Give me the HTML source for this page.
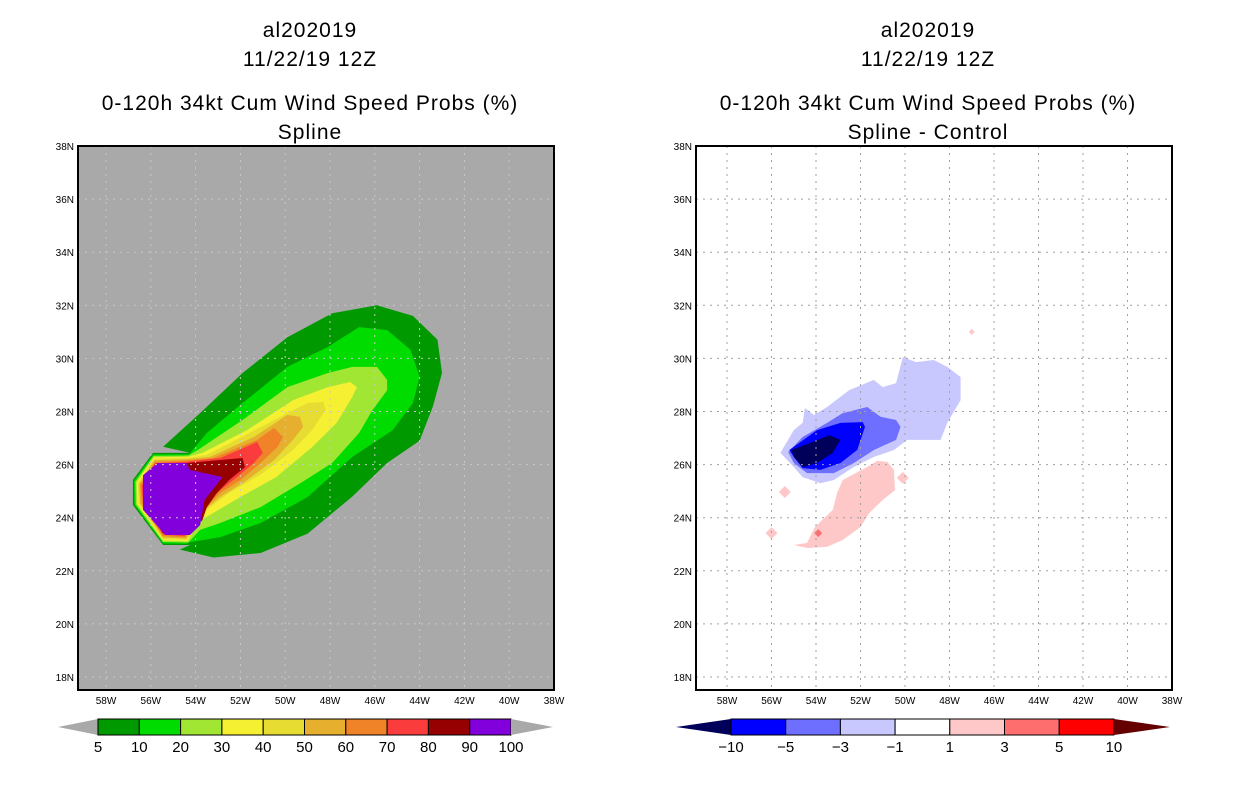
<!DOCTYPE html>
<html><head><meta charset="utf-8"><style>
body{margin:0;background:#fff;width:1236px;height:800px;overflow:hidden}
svg{display:block}
text{font-family:"Liberation Sans",sans-serif}
</style></head><body>
<svg id="c" width="1236" height="800" viewBox="0 0 1236 800">
<g id="titles" font-size="21" text-anchor="middle" fill="#000" letter-spacing="1">
<text x="310" y="37">al202019</text>
<text x="310" y="66">11/22/19 12Z</text>
<text x="310" y="110">0-120h 34kt Cum Wind Speed Probs (%)</text>
<text x="310" y="139">Spline</text>
<text x="928" y="37">al202019</text>
<text x="928" y="66">11/22/19 12Z</text>
<text x="928" y="110">0-120h 34kt Cum Wind Speed Probs (%)</text>
<text x="928" y="139">Spline - Control</text>
</g>
<g id="L"></g><g id="R"></g>
</svg>
<script>
const NS="http://www.w3.org/2000/svg";
const lonTicks=[58,56,54,52,50,48,46,44,42,40,38];
const latTicks=[38,36,34,32,30,28,26,24,22,20,18];
const probLevels=["5","10","20","30","40","50","60","70","80","90","100"];
const probColors=["#009a00","#00dc00","#a0e632","#f5f032","#e6dc32","#e6af2d","#f08228","#fa3c3c","#960000","#8200dc"];
const diffLevels=["-10","-5","-3","-1","1","3","5","10"];
const diffColors=["#00005a","#0000ff","#6e6eff","#c8c8ff","#ffffff","#ffc8c8","#ff6e6e","#ff0000","#640000"];
// contour outlines [lonW, latN] (east side, before closing around the storm-core octagon)
const prob5=[[55.45,26.67],[53.8,27.94],[51.9,29.45],[49.9,30.8],[47.9,31.7],[45.9,32.0],[44.3,31.6],[43.2,30.7],[43.0,29.45],[43.4,28.2],[44.0,26.9],[45.45,26.06],[47.0,24.8],[49.0,23.4],[51.1,22.67],[53.2,22.5],[54.7,22.8]];
const prob10=[[53.5,27.19],[51.9,28.32],[49.9,29.68],[48.1,30.43],[46.7,31.18],[45.45,31.07],[44.4,30.32],[44.0,29.3],[44.3,28.32],[45.2,27.3],[47.0,26.29],[49.0,24.78],[51.1,23.8],[52.9,23.27],[54.4,23.05]];
const prob20=[[53.9,26.55],[51.9,27.68],[49.9,28.92],[48.1,29.45],[47.0,29.68],[45.9,29.68],[45.45,29.19],[45.45,28.8],[46.1,28.06],[46.7,27.19],[47.9,26.06],[49.3,25.31],[51.1,24.4],[52.9,23.8],[53.8,23.54]];
const prob30=[[53.7,26.44],[51.7,27.3],[49.65,28.43],[48.1,28.92],[47.1,29.11],[46.8,28.92],[47.0,28.55],[47.7,27.57],[48.8,26.66],[50.4,25.53],[52.0,24.78],[53.5,24.03],[53.9,23.8]];
const prob40=[[53.5,26.36],[51.6,27.19],[49.9,27.94],[49.0,28.32],[48.3,28.36],[48.2,28.06],[48.8,27.3],[49.65,26.55],[51.0,25.68],[52.5,24.93],[53.5,24.3]];
const prob50=[[53.35,26.29],[51.4,27.04],[49.9,27.87],[49.35,27.8],[49.2,27.42],[49.65,26.93],[50.5,26.17],[51.7,25.42],[52.9,24.78],[53.45,24.4]];
const prob60=[[53.2,26.25],[51.25,26.93],[50.5,27.38],[50.1,27.04],[50.35,26.66],[51.1,26.06],[52.0,25.42],[52.9,24.93],[53.35,24.55]];
const prob70=[[52.9,26.25],[51.25,26.85],[51.0,26.44],[51.4,26.06],[52.15,25.53],[52.9,25.04],[53.35,24.67]];
const prob80=[[54.4,26.06],[51.9,26.25],[51.8,25.9],[52.5,25.42],[53.05,24.93],[53.5,24.4],[53.7,23.9]];
const prob90=[[55.7,26.06],[54.4,26.06],[54.25,25.8],[52.8,25.53],[53.6,24.67],[53.8,23.72],[54.25,23.35],[55.35,23.35],[56.35,24.3],[56.35,25.6]];
const coreOct=[[54.25,22.97],[55.45,22.97],[56.8,24.48],[56.8,25.42],[55.9,26.44],[54.25,26.44]];
const diffNeg1=[[55.6,26.44],[55.0,27.3],[54.6,27.57],[54.5,28.13],[54.1,27.87],[53.5,28.17],[52.5,28.81],[51.4,29.19],[51.0,28.92],[50.4,29.07],[50.1,30.05],[49.5,29.86],[48.7,29.94],[48.1,29.68],[47.5,29.3],[47.5,28.43],[48.1,27.57],[48.4,26.93],[49.9,26.93],[50.5,26.55],[51.4,26.29],[52.3,25.91],[53.2,25.42],[53.8,25.3],[54.6,25.53],[55.0,25.91]];
const diffNeg3=[[55.25,26.47],[54.6,27.04],[53.5,27.57],[52.8,27.94],[51.7,28.17],[51.1,27.8],[50.4,27.68],[50.2,27.42],[50.4,26.93],[51.4,26.55],[52.3,26.06],[53.2,25.68],[54.4,25.68],[55.0,26.06]];
const diffNeg5=[[55.2,26.55],[53.95,27.3],[52.9,27.57],[51.9,27.6],[51.8,27.42],[52.15,26.55],[52.9,26.06],[53.8,25.8],[54.6,25.87],[55.0,26.29]];
const diffNeg10=[[55.1,26.55],[54.3,26.81],[53.4,27.11],[52.9,26.93],[53.25,26.44],[53.95,26.06],[54.6,25.91],[55.0,26.29]];
const diffPos1=[[55.0,22.97],[54.4,23.05],[54.05,23.65],[53.25,24.29],[53.05,24.93],[52.8,25.42],[51.7,25.91],[51.25,26.14],[50.8,26.1],[50.5,25.8],[50.45,25.04],[51.0,24.67],[51.6,24.18],[52.0,23.65],[52.8,23.16],[53.5,22.9],[54.4,22.86]];
const diffPosSpots=[[55.4,24.97],[56.0,23.42],[50.1,25.5],[47.0,31.0]];
const diffPos3Spots=[[53.9,23.42]];

const P={L:{x0:78,x1:554,sx:22.4},R:{x0:696,x1:1172,sx:22.25}};
const Y0=146,Y1=690,SY=26.55;
function X(p,lon){return P[p].x1-(lon-38)*P[p].sx;}
function Yl(lat){return Y0+(38-lat)*SY;}
function el(tag,attrs,parent){const e=document.createElementNS(NS,tag);for(const k in attrs)e.setAttribute(k,attrs[k]);parent.appendChild(e);return e;}
function pts(p,arr){return arr.map(a=>X(p,a[0]).toFixed(1)+","+Yl(a[1]).toFixed(1)).join(" ");}

function frame(p,g,bg){
  const r=el("rect",{x:P[p].x0,y:Y0,width:P[p].x1-P[p].x0,height:Y1-Y0,fill:bg},g);
  
  
}
function grid(p,g,col){
  lonTicks.forEach(l=>{const x=X(p,l);if(x>P[p].x0+2&&x<P[p].x1-2){const ln=el("line",{x1:x,x2:x,y1:Y0,y2:Y1,stroke:col,"stroke-width":1,"stroke-dasharray":"2,5"},g);
    
    }});
  latTicks.forEach(l=>{const y=Yl(l);if(y>Y0+2&&y<Y1-2){const ln=el("line",{x1:P[p].x0,x2:P[p].x1,y1:y,y2:y,stroke:col,"stroke-width":1,"stroke-dasharray":"2,5"},g);
    
    }});
}
function axes(p,g){
  const b=el("rect",{x:P[p].x0,y:Y0,width:P[p].x1-P[p].x0,height:Y1-Y0,fill:"none",stroke:"#000","stroke-width":2},g);
  
  
  lonTicks.forEach(l=>{const t=el("text",{x:X(p,l),y:704,"font-size":10,"text-anchor":"middle"},g);t.textContent=l+"W";
    
    });
  latTicks.forEach(l=>{const t=el("text",{x:P[p].x0-4,y:Yl(l)+4,"font-size":10,"text-anchor":"end"},g);t.textContent=l+"N";
    
    });
}
// left panel
const gL=document.getElementById("L");
frame("L",gL,"#a9a9a9");
const probSets=[prob5,prob10,prob20,prob30,prob40,prob50,prob60,prob70,prob80];
const cx=X("L",55.5),cy=Yl(24.7);
probSets.forEach((s,k)=>{
  const oct=coreOct.map(a=>{const x=X("L",a[0]),y=Yl(a[1]);const dx=x-cx,dy=y-cy,d=Math.hypot(dx,dy),f=(d-k*1.5)/d;return (cx+dx*f).toFixed(1)+","+(cy+dy*f).toFixed(1);});
  const pg=el("polygon",{points:pts("L",s)+" "+oct.join(" "),fill:probColors[k]},gL);
  
  
});
const pur=el("polygon",{points:pts("L",prob90),fill:probColors[9]},gL);


grid("L",gL,"#c8c8c8");
axes("L",gL);
// left colorbar
const cb0=98,cbw=41.3,cy0=719,cy1=735;
const tl=el("polygon",{points:`58,727 ${cb0},${cy0} ${cb0},${cy1}`,fill:"#a9a9a9"},gL);


probColors.forEach((c,i)=>{const r=el("rect",{x:cb0+i*cbw,y:cy0,width:cbw,height:cy1-cy0,fill:c,stroke:"#000","stroke-width":1},gL);
  
  });
const tr=el("polygon",{points:`${cb0+10*cbw},${cy0} ${cb0+10*cbw},${cy1} 553,727`,fill:"#a9a9a9"},gL);


probLevels.forEach((l,i)=>{const t=el("text",{x:cb0+i*cbw,y:752,"font-size":15,"text-anchor":"middle"},gL);t.textContent=l;
  
  });
// right panel
const gR=document.getElementById("R");
frame("R",gR,"#ffffff");
function rp(arr,col,name){const pg=el("polygon",{points:pts("R",arr),fill:col},gR);
  
  }
rp(diffNeg1,diffColors[3],'diff-contour-neg1');
rp(diffNeg3,diffColors[2],'diff-contour-neg3');
rp(diffNeg5,diffColors[1],'diff-contour-neg5');
rp(diffNeg10,diffColors[0],'diff-contour-neg10');
rp(diffPos1,diffColors[5],'diff-contour-pos1');
function spot(a,col,r,name){const x=X("R",a[0]),y=Yl(a[1]);const pg=el("polygon",{points:`${x-r},${y} ${x},${y-r} ${x+r},${y} ${x},${y+r}`,fill:col},gR);
  
  }
diffPosSpots.forEach((a,i)=>spot(a,diffColors[5],i==3?3:6,'diff-spot-pos1'));
diffPos3Spots.forEach(a=>spot(a,diffColors[6],4,'diff-spot-pos3'));
grid("R",gR,"#a0a0a0");
axes("R",gR);
const rb0=731,rbw=54.7,ry0=719,ry1=735;
const rtl=el("polygon",{points:`676,727 ${rb0},${ry0} ${rb0},${ry1}`,fill:diffColors[0]},gR);


for(let i=1;i<8;i++){const r=el("rect",{x:rb0+(i-1)*rbw,y:ry0,width:rbw,height:ry1-ry0,fill:diffColors[i],stroke:"#000","stroke-width":1},gR);
  
  }
const rtr=el("polygon",{points:`${rb0+7*rbw},${ry0} ${rb0+7*rbw},${ry1} 1170,727`,fill:diffColors[8]},gR);


diffLevels.forEach((l,i)=>{const t=el("text",{x:rb0+i*rbw,y:752,"font-size":15,"text-anchor":"middle"},gR);t.textContent=l.replace("-","\u2212");
  
  });
</script>
</body></html>
